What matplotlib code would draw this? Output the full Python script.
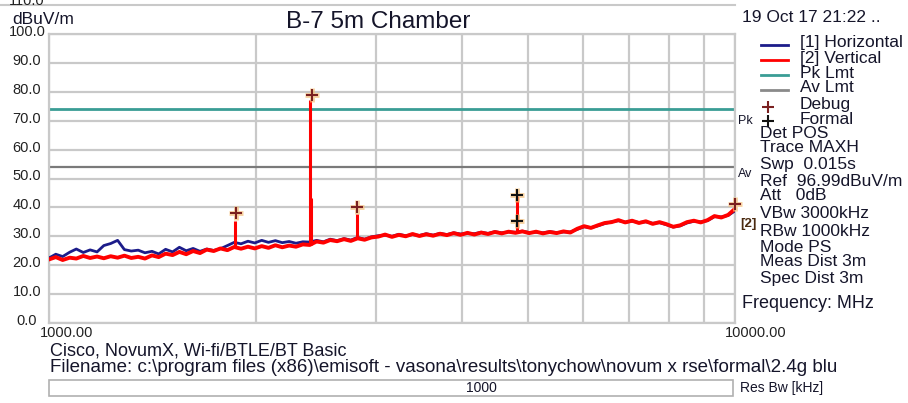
import matplotlib.pyplot as plt
from matplotlib.lines import Line2D
from matplotlib.patches import Rectangle

plt.rcParams['font.family'] = ['Liberation Sans', 'DejaVu Sans']

# sweep frequencies (MHz)
freq = [1000, 1023, 1047, 1072, 1096, 1122, 1148, 1175, 1202, 1230,
        1259, 1288, 1318, 1349, 1380, 1413, 1445, 1479, 1514, 1549,
        1585, 1622, 1660, 1698, 1738, 1778, 1820, 1862, 1905, 1950,
        1995, 2042, 2089, 2138, 2188, 2239, 2291, 2344, 2399, 2455,
        2512, 2570, 2630, 2692, 2754, 2818, 2884, 2951, 3020, 3090,
        3162, 3236, 3311, 3388, 3467, 3548, 3631, 3715, 3802, 3890,
        3981, 4074, 4169, 4266, 4365, 4467, 4571, 4677, 4786, 4898,
        5012, 5129, 5248, 5370, 5495, 5623, 5754, 5888, 6026, 6166,
        6310, 6457, 6607, 6761, 6918, 7079, 7244, 7413, 7586, 7762,
        7943, 8128, 8318, 8511, 8710, 8913, 9120, 9333, 9550, 9772, 10000]

# [1] Horizontal (dBuV/m)
horizontal = [22.5, 23.8, 23.0, 24.5, 25.6, 24.4, 25.3, 24.6, 26.8, 27.5,
              28.6, 25.4, 24.9, 25.2, 24.3, 24.8, 23.9, 25.5, 24.6, 26.2,
              25.0, 25.8, 24.8, 25.6, 25.1, 25.7, 26.8, 27.9, 27.4, 28.3,
              27.7, 28.6, 27.9, 28.5, 27.8, 28.2, 27.6, 28.1, 28.0, 28.6,
              28.1, 29.0, 28.5, 29.2, 28.7, 29.6, 29.0, 29.8, 30.2, 30.4,
              30.0, 30.7, 30.2, 30.6, 30.3, 30.9, 30.4, 31.0, 30.6, 31.2,
              30.8, 31.0, 30.9, 31.4, 31.0, 31.6, 31.2, 31.5, 31.4, 31.8,
              31.3, 31.4, 31.2, 31.6, 31.3, 31.5, 31.5, 32.4, 33.3, 33.0,
              33.6, 34.4, 35.0, 35.4, 34.9, 35.2, 34.8, 35.0, 34.5, 34.7,
              34.0, 33.2, 33.6, 34.6, 35.2, 35.0, 35.4, 36.8, 36.7, 37.2, 38.8]

# [2] Vertical (dBuV/m)
vertical = [22.0, 22.8, 21.8, 22.6, 22.3, 23.2, 22.5, 23.0, 22.4, 23.1,
            22.6, 23.3, 22.5, 22.9, 22.3, 23.4, 22.8, 24.0, 23.5, 24.6,
            23.8, 24.9, 24.2, 25.4, 24.9, 25.8, 25.2, 26.3, 25.7, 26.4,
            25.8, 26.6, 26.0, 26.9, 26.2, 26.8, 26.4, 27.2, 27.0, 28.2,
            27.8, 28.7, 28.3, 29.0, 28.4, 29.3, 28.8, 29.6, 29.9, 30.6,
            29.8, 30.5, 30.0, 30.8, 30.1, 30.7, 30.2, 30.9, 30.4, 31.1,
            30.5, 31.2, 30.6, 31.3, 30.8, 31.5, 31.0, 31.6, 31.2, 31.7,
            31.1, 31.6, 31.0, 31.5, 31.1, 31.7, 31.3, 32.6, 33.5, 32.9,
            33.8, 34.6, 34.9, 35.6, 34.8, 35.4, 34.6, 35.2, 34.3, 34.9,
            34.2, 33.3, 33.8, 34.9, 35.4, 34.8, 35.6, 37.0, 36.5, 37.4, 39.5]

# narrow emissions on the vertical trace
spike_freq = [1870, 2400, 2410, 2810, 4804]
spike_base = [26.0, 27.0, 27.0, 29.3, 31.2]
spike_top = [35.3, 77.2, 43.3, 37.6, 44.0]

debug_freq = [1875, 2420, 2815, 10000]
debug_level = [38.0, 78.9, 40.0, 41.2]
formal_freq = [4810, 4810]
formal_level = [44.3, 35.4]

pk_limit = 74.0
av_limit = 54.0
y_ticks = [0, 10, 20, 30, 40, 50, 60, 70, 80, 90, 100]

W, H = 908, 403
fig = plt.figure(figsize=(W / 100, H / 100), dpi=100)
ax = fig.add_axes([49 / W, 1 - 323 / H, (735 - 49) / W, (323 - 34) / H])


def px(x, y):
    return x / W, 1 - y / H


grid_c = '#c9c9c9'
ax.set_xscale('log')
ax.set_xlim(1000, 10000)
ax.set_ylim(0, 100)
ax.set_yticks(y_ticks)
ax.set_xticks([1000, 10000])
ax.set_xticks([2000, 3000, 4000, 5000, 6000, 7000, 8000, 9000], minor=True)
ax.grid(True, which='both', color=grid_c, lw=1.6)
ax.tick_params(which='both', length=0, labelbottom=False, labelleft=False)
for s in ax.spines.values():
    s.set_color(grid_c)
    s.set_linewidth(1.6)

ax.axhline(pk_limit, color='#3a9d95', lw=2)
ax.axhline(av_limit, color='#7a7a7a', lw=1.6)

ax.plot(freq, horizontal, color='#1c1c8a', lw=2, zorder=3)
ax.plot(freq, vertical, color='#ff0000', lw=2.8, zorder=4)
ax.vlines(spike_freq, spike_base, spike_top, color='#ff0000', lw=2.2, zorder=4)

ax.plot(debug_freq, debug_level, ls='none', marker='+', ms=10, mew=3.5,
        color='#f5c07a', alpha=0.7, zorder=5, clip_on=False)
ax.plot(debug_freq, debug_level, ls='none', marker='+', ms=9, mew=1.5,
        color='#7a2020', zorder=6, clip_on=False)
ax.plot(formal_freq, formal_level, ls='none', marker='+', ms=10, mew=3.5,
        color='#f5c07a', alpha=0.7, zorder=5)
ax.plot(formal_freq, formal_level, ls='none', marker='+', ms=9, mew=1.5,
        color='#111111', zorder=6)

# y tick labels, centred left of the plot
for v in y_ticks:
    fig.text(27 / W, 1 - (323 - v * 2.89 - 2) / H, f'{v:.1f}', ha='center',
             va='center', fontsize=10.5, color='#222222')
# top label of the taller frame, mostly off the picture as in the original
fig.text(27 / W, 1 - 1 / H, '110.0', ha='center', va='center', fontsize=10.5,
         color='#222222')
fig.add_artist(Line2D([0, 735 / W], [1 - 5 / H, 1 - 5 / H], color=grid_c, lw=1.5))

fig.text(*px(40, 333), '1000.00', ha='left', va='center', fontsize=10.5, color='#222222')
fig.text(*px(725, 333), '10000.00', ha='left', va='center', fontsize=10.5, color='#222222')

tc = '#15152a'
fig.text(*px(43, 19), 'dBuV/m', ha='center', va='center', fontsize=12.5, color=tc)
fig.text(*px(378, 22), 'B-7 5m Chamber', ha='center', va='center', fontsize=17.5, color=tc)
fig.text(*px(742, 18), '19 Oct 17 21:22 ..', ha='left', va='center', fontsize=12.5, color=tc)

legend_items = [('[1] Horizontal', '#1c1c8a'), ('[2] Vertical', '#ff0000'),
                ('Pk Lmt', '#3a9d95'), ('Av Lmt', '#8a8a8a')]
for i, (lab, c) in enumerate(legend_items):
    yy = 45 + i * 15
    fig.add_artist(Line2D([761 / W, 788 / W], [1 - yy / H, 1 - yy / H], color=c, lw=2))
    fig.text(*px(800, yy - 2), lab, ha='left', va='center', fontsize=12.5, color=tc)
fig.add_artist(Line2D([768 / W], [1 - 107 / H], marker='+', ms=8, mew=1.5, color='#7a2020'))
fig.text(*px(800, 104), 'Debug', ha='left', va='center', fontsize=12.5, color=tc)
fig.add_artist(Line2D([768 / W], [1 - 121 / H], marker='+', ms=8, mew=1.5, color='#111111'))
fig.text(*px(800, 119), 'Formal', ha='left', va='center', fontsize=12.5, color=tc)

info = [('Det POS', 133), ('Trace MAXH', 147), ('Swp  0.015s', 164),
        ('Ref  96.99dBuV/m', 181), ('Att   0dB', 196), ('VBw 3000kHz', 213),
        ('RBw 1000kHz', 231), ('Mode PS', 247), ('Meas Dist 3m', 262),
        ('Spec Dist 3m', 279)]
for lab, yy in info:
    fig.text(*px(760, yy), lab, ha='left', va='center', fontsize=12.5, color=tc)
fig.text(*px(742, 303), 'Frequency: MHz', ha='left', va='center', fontsize=13, color=tc)

fig.text(*px(738, 121), 'Pk', ha='left', va='center', fontsize=9, color=tc)
fig.text(*px(738, 174), 'Av', ha='left', va='center', fontsize=9, color=tc)
fig.text(*px(740, 224), '[2]', ha='left', va='center', fontsize=9.5,
         color='#4a2a10', fontweight='bold')

fig.text(*px(50, 351), 'Cisco, NovumX, Wi-fi/BTLE/BT Basic', ha='left', va='center',
         fontsize=13, color=tc)
fig.text(*px(50, 367),
         'Filename: c:\\program files (x86)\\emisoft - vasona\\results\\tonychow\\novum x rse\\formal\\2.4g blu',
         ha='left', va='center', fontsize=13.5, color=tc)

fig.add_artist(Rectangle(px(49, 396), (733 - 49) / W, 16 / H, transform=fig.transFigure,
                         fill=False, edgecolor='#b0b0b0', lw=1.2))
fig.text(*px(481, 388), '1000', ha='center', va='center', fontsize=10, color=tc)
fig.text(*px(740, 388), 'Res Bw [kHz]', ha='left', va='center', fontsize=10, color=tc)

fig.savefig('out.png', dpi=100)
